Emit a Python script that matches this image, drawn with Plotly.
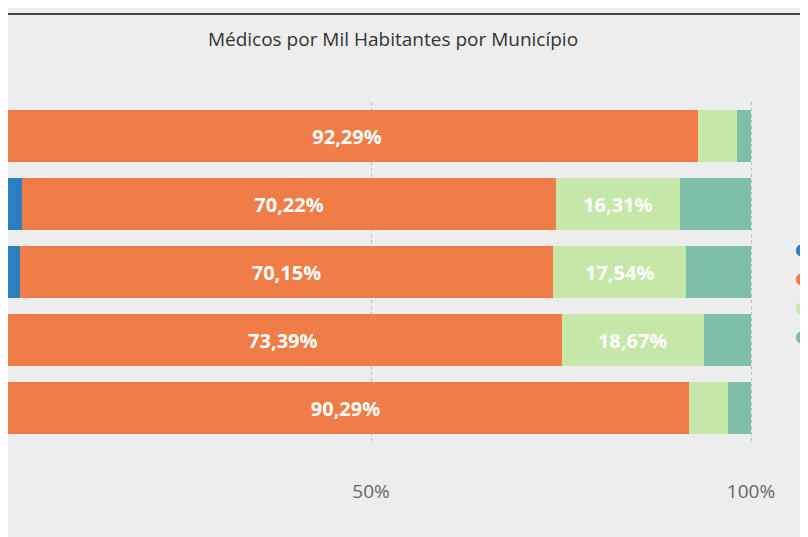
import plotly.graph_objects as go

municipios = ["M1", "M2", "M3", "M4", "M5"]
series = ["Faixa 1", "Faixa 2", "Faixa 3", "Faixa 4"]
azul = [0.7, 4.1, 3.8, 1.7, 1.5]
laranja = [92.29, 70.22, 70.15, 73.39, 90.29]
verde = [5.2, 16.31, 17.54, 18.67, 5.2]
teal = [1.81, 9.37, 8.51, 6.24, 3.01]
colors = ["#2a7fc0", "#f07d47", "#c5e8a8", "#7cc0a8"]
values = [azul, laranja, verde, teal]

fig = go.Figure()
for name, vals, c in zip(series, values, colors):
    txt = [f"<b>{v:.2f}%</b>".replace(".", ",") if v > 10 else "" for v in vals]
    fig.add_trace(go.Bar(y=municipios, x=vals, orientation="h", marker_color=c,
                         marker_line_width=0, text=txt, textposition="inside",
                         insidetextanchor="middle", textangle=0,
                         textfont=dict(color="white", size=20, family="Open Sans"),
                         showlegend=False))
for name, c in zip(series, colors):
    fig.add_trace(go.Scatter(x=[None], y=[None], mode="markers", name=name,
                             legendgroup=name,
                             marker=dict(color=c, size=22, symbol="circle")))

fig.update_layout(
    width=808, height=537, barmode="stack", bargap=0.235,
    paper_bgcolor="#ededed", plot_bgcolor="#ededed",
    margin=dict(l=0, r=38, t=94, b=103, autoexpand=False),
    title=dict(text="Médicos por Mil Habitantes por Município", x=0.5, xref="paper",
               y=1 - 31 / 537, yanchor="middle",
               xanchor="center", font=dict(size=19, color="#333", family="Open Sans")),
    xaxis=dict(range=[2.237, 103.55], tickvals=[0, 50, 100], ticktext=["0%", "50%", "100%"],
               showgrid=True, gridcolor="#bbb", griddash="dot", zeroline=False,
               ticklabelstandoff=36, tickfont=dict(size=19, color="#666", family="Open Sans")),
    yaxis=dict(autorange="reversed", showticklabels=False, showgrid=False),
    legend=dict(x=1.005, xanchor="left", y=0.435, yanchor="middle", tracegroupgap=24,
                traceorder="normal", itemsizing="constant",
                font=dict(size=20, color="#ededed")),
    shapes=[
        dict(type="line", xref="paper", yref="paper", x0=-0.05, x1=1.1, y0=1.259, y1=1.259,
             line=dict(color="#444", width=2)),
        dict(type="line", xref="paper", yref="paper", x0=-0.05, x1=1.1, y0=-0.282, y1=-0.282,
             line=dict(color="#444", width=2)),
    ],
)
fig.write_html("out.html")
